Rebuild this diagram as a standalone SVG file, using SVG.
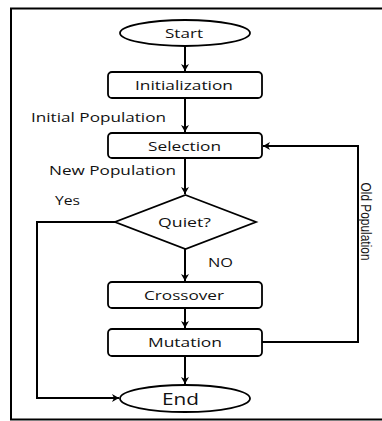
<svg xmlns="http://www.w3.org/2000/svg" width="382" height="421" viewBox="0 0 382 421">
<defs>
<style>
.frame{fill:none;stroke:#000;stroke-width:2}
.box{fill:#fff;stroke:#000;stroke-width:1.8}
.edge{fill:none;stroke:#000;stroke-width:2}
.t{font-family:"Open Sans","Liberation Sans",sans-serif;font-size:13px;fill:#111}
.c{text-anchor:middle}
.v{font-family:"Liberation Sans","Open Sans",sans-serif;font-size:14px}
</style>
<marker id="ah" markerWidth="10" markerHeight="10" refX="8" refY="5" orient="auto" markerUnits="userSpaceOnUse">
<path d="M1,1 L8,5 L1,9 L3,5 Z" fill="#000"/>
</marker>
</defs>
<rect width="382" height="421" fill="#fff"/>
<path class="frame" d="M386,8.5 H11 V419.5 H386"/>
<g id="connectors">
<line class="edge" x1="185" y1="46" x2="185" y2="71" marker-end="url(#ah)"/>
<line class="edge" x1="185" y1="98" x2="185" y2="132" marker-end="url(#ah)"/>
<line class="edge" x1="185" y1="158" x2="185" y2="194" marker-end="url(#ah)"/>
<line class="edge" x1="185" y1="249" x2="185" y2="281" marker-end="url(#ah)"/>
<line class="edge" x1="185" y1="308" x2="185" y2="328" marker-end="url(#ah)"/>
<line class="edge" x1="185" y1="356" x2="185" y2="384" marker-end="url(#ah)"/>
<polyline class="edge" points="116,222 37,222 37,398 119,398" marker-end="url(#ah)"/>
<polyline class="edge" points="262,342 358,342 358,146 263,146" marker-end="url(#ah)"/>
<text class="t" x="31" y="122" textLength="135" lengthAdjust="spacingAndGlyphs">Initial Population</text>
<text class="t" x="49" y="175" textLength="127" lengthAdjust="spacingAndGlyphs">New Population</text>
<text class="t" x="55" y="205" textLength="25" lengthAdjust="spacingAndGlyphs">Yes</text>
<text class="t" x="208" y="266.5" textLength="25" lengthAdjust="spacingAndGlyphs">NO</text>
<text class="t c v" transform="translate(361,221.5) rotate(90)" textLength="78" lengthAdjust="spacingAndGlyphs">Old Population</text>
</g>
<g id="start">
<ellipse class="box" cx="185" cy="33" rx="65" ry="13"/>
<text class="t c" x="184" y="37.5" textLength="38" lengthAdjust="spacingAndGlyphs">Start</text>
</g>
<g id="init">
<rect class="box" x="108" y="72" width="154" height="26" rx="4"/>
<text class="t c" x="184" y="90" textLength="98" lengthAdjust="spacingAndGlyphs">Initialization</text>
</g>
<g id="selection">
<rect class="box" x="108" y="133" width="154" height="25" rx="4"/>
<text class="t c" x="184.5" y="151" textLength="73" lengthAdjust="spacingAndGlyphs">Selection</text>
</g>
<g id="quiet">
<polygon class="box" points="185.5,195 256,222 185.5,249 115,222"/>
<text class="t c" x="184.5" y="226.5" textLength="53" lengthAdjust="spacingAndGlyphs">Quiet?</text>
</g>
<g id="crossover">
<rect class="box" x="108" y="282" width="154" height="26" rx="4"/>
<text class="t c" x="184" y="299.5" textLength="80" lengthAdjust="spacingAndGlyphs">Crossover</text>
</g>
<g id="mutation">
<rect class="box" x="108" y="329" width="154" height="27" rx="4"/>
<text class="t c" x="185" y="347" textLength="74" lengthAdjust="spacingAndGlyphs">Mutation</text>
</g>
<g id="end">
<ellipse class="box" cx="185" cy="398.5" rx="65" ry="13.5"/>
<text class="t c" x="180.5" y="405" style="font-size:17px" textLength="37" lengthAdjust="spacingAndGlyphs">End</text>
</g>
</svg>
